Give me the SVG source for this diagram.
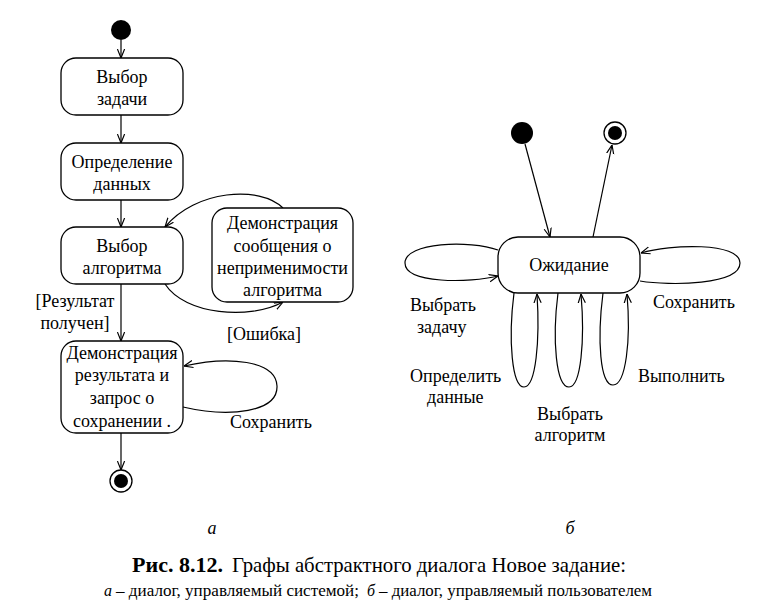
<svg xmlns="http://www.w3.org/2000/svg" width="760" height="613" viewBox="0 0 760 613">
<style>
.n{fill:#fff;stroke:#000;stroke-width:1.3}
.c{fill:none;stroke:#000;stroke-width:1.2}
.t{font-family:"Liberation Serif","Times New Roman",serif;font-size:18px;fill:#000}
.m{text-anchor:middle}
.i{font-style:italic}
.s{font-size:16px}
.b{font-size:21px}
</style>
<defs>
<marker id="arr" viewBox="0 0 10 10" refX="10" refY="5" markerWidth="9" markerHeight="9" orient="auto" markerUnits="userSpaceOnUse">
<path d="M0,1 L10,5 L0,9" fill="none" stroke="#000" stroke-width="1.3"/>
</marker>
</defs>
<rect width="760" height="613" fill="#fff"/>

<g id="connectors">
<line class="c" x1="121" y1="40" x2="121" y2="58" marker-end="url(#arr)"/>
<line class="c" x1="121" y1="115" x2="121" y2="143" marker-end="url(#arr)"/>
<line class="c" x1="121" y1="200" x2="121" y2="227" marker-end="url(#arr)"/>
<path class="c" d="M283,208 C260,185 195,190 165,227" marker-end="url(#arr)"/>
<path class="c" d="M165,284 C185,315 250,320 283,302" marker-end="url(#arr)"/>
<line class="c" x1="121" y1="284" x2="121" y2="341" marker-end="url(#arr)"/>
<path class="c" d="M183,407 C230,418 278,412 277,386 C276,360 228,356 184,366" marker-end="url(#arr)"/>
<line class="c" x1="121" y1="433" x2="121" y2="470" marker-end="url(#arr)"/>

<line class="c" x1="525" y1="144" x2="550" y2="237" marker-end="url(#arr)"/>
<line class="c" x1="593" y1="237" x2="612" y2="145" marker-end="url(#arr)"/>
<path class="c" d="M498,250 C470,240 405,242 405,263 C405,284 470,283 498,276" marker-end="url(#arr)"/>
<path class="c" d="M640,281 C670,286 740,285 740,263 C740,242 670,244 641,253" marker-end="url(#arr)"/>
<path class="c" d="M514,293 C508,340 512,387 524,387 C536,387 540,340 537,294" marker-end="url(#arr)"/>
<path class="c" d="M558,293 C552,340 556,387 569,387 C581,387 585,340 581,294" marker-end="url(#arr)"/>
<path class="c" d="M603,293 C597,340 600,385 613,385 C626,385 631,340 627,294" marker-end="url(#arr)"/>
</g>

<g id="start-a"><circle cx="121" cy="30" r="10" fill="#000"/></g>
<g id="n-vybor-zadachi">
<rect class="n" x="61" y="58" width="122" height="57" rx="15"/>
<text class="t m" x="122" y="83">Выбор</text>
<text class="t m" x="122" y="105">задачи</text>
</g>
<g id="n-opredelenie">
<rect class="n" x="61" y="143" width="122" height="57" rx="15"/>
<text class="t m" x="122" y="168">Определение</text>
<text class="t m" x="122" y="190">данных</text>
</g>
<g id="n-vybor-alg">
<rect class="n" x="61" y="227" width="122" height="57" rx="15"/>
<text class="t m" x="122" y="252">Выбор</text>
<text class="t m" x="122" y="274">алгоритма</text>
</g>
<g id="n-demo-msg">
<rect class="n" x="212" y="208" width="141" height="94" rx="15"/>
<text class="t m" x="282.5" y="229">Демонстрация</text>
<text class="t m" x="282.5" y="252">сообщения о</text>
<text class="t m" x="282.5" y="274">неприменимости</text>
<text class="t m" x="282.5" y="296">алгоритма</text>
</g>
<g id="n-demo-res">
<rect class="n" x="61" y="341" width="122" height="92" rx="15"/>
<text class="t m" x="122" y="359">Демонстрация</text>
<text class="t m" x="122" y="381">результата и</text>
<text class="t m" x="122" y="404">запрос о</text>
<text class="t m" x="122" y="427">сохранении .</text>
</g>
<g id="end-a">
<circle cx="121" cy="481" r="11" fill="#fff" stroke="#000" stroke-width="1.3"/>
<circle cx="121" cy="481" r="7" fill="#000"/>
</g>
<g id="labels-a">
<text class="t m" x="75" y="307">[Результат</text>
<text class="t m" x="75" y="329">получен]</text>
<text class="t m" x="264" y="340">[Ошибка]</text>
<text class="t" x="230" y="428">Сохранить</text>
</g>

<g id="start-b"><circle cx="522" cy="133" r="11" fill="#000"/></g>
<g id="end-b">
<circle cx="615" cy="133" r="11" fill="#fff" stroke="#000" stroke-width="1.3"/>
<circle cx="615" cy="133" r="7" fill="#000"/>
</g>
<g id="n-ozhidanie">
<rect class="n" x="498" y="237" width="142" height="56" rx="20"/>
<text class="t m" x="569" y="271">Ожидание</text>
</g>
<g id="labels-b">
<text class="t" x="410" y="311">Выбрать</text>
<text class="t" x="417" y="333">задачу</text>
<text class="t" x="653" y="308">Сохранить</text>
<text class="t" x="410" y="382">Определить</text>
<text class="t" x="427" y="403">данные</text>
<text class="t m" x="570" y="420">Выбрать</text>
<text class="t m" x="570" y="441">алгоритм</text>
<text class="t" x="638" y="382">Выполнить</text>
</g>

<g id="caption">
<text class="t i m" x="212" y="534" font-size="20">а</text>
<text class="t i m" x="570" y="534" font-size="20">б</text>
<text class="t b" x="132" y="572" font-weight="bold" textLength="91" lengthAdjust="spacingAndGlyphs">Рис. 8.12.</text>
<text class="t b" x="232" y="572" textLength="394" lengthAdjust="spacingAndGlyphs">Графы абстрактного диалога Новое задание:</text>
<text class="t s i" x="104" y="596">а</text>
<text class="t s" x="116" y="596" textLength="243" lengthAdjust="spacingAndGlyphs">– диалог, управляемый системой;</text>
<text class="t s i" x="367" y="596">б</text>
<text class="t s" x="379" y="596" textLength="273" lengthAdjust="spacingAndGlyphs">– диалог, управляемый пользователем</text>
</g>
</svg>
